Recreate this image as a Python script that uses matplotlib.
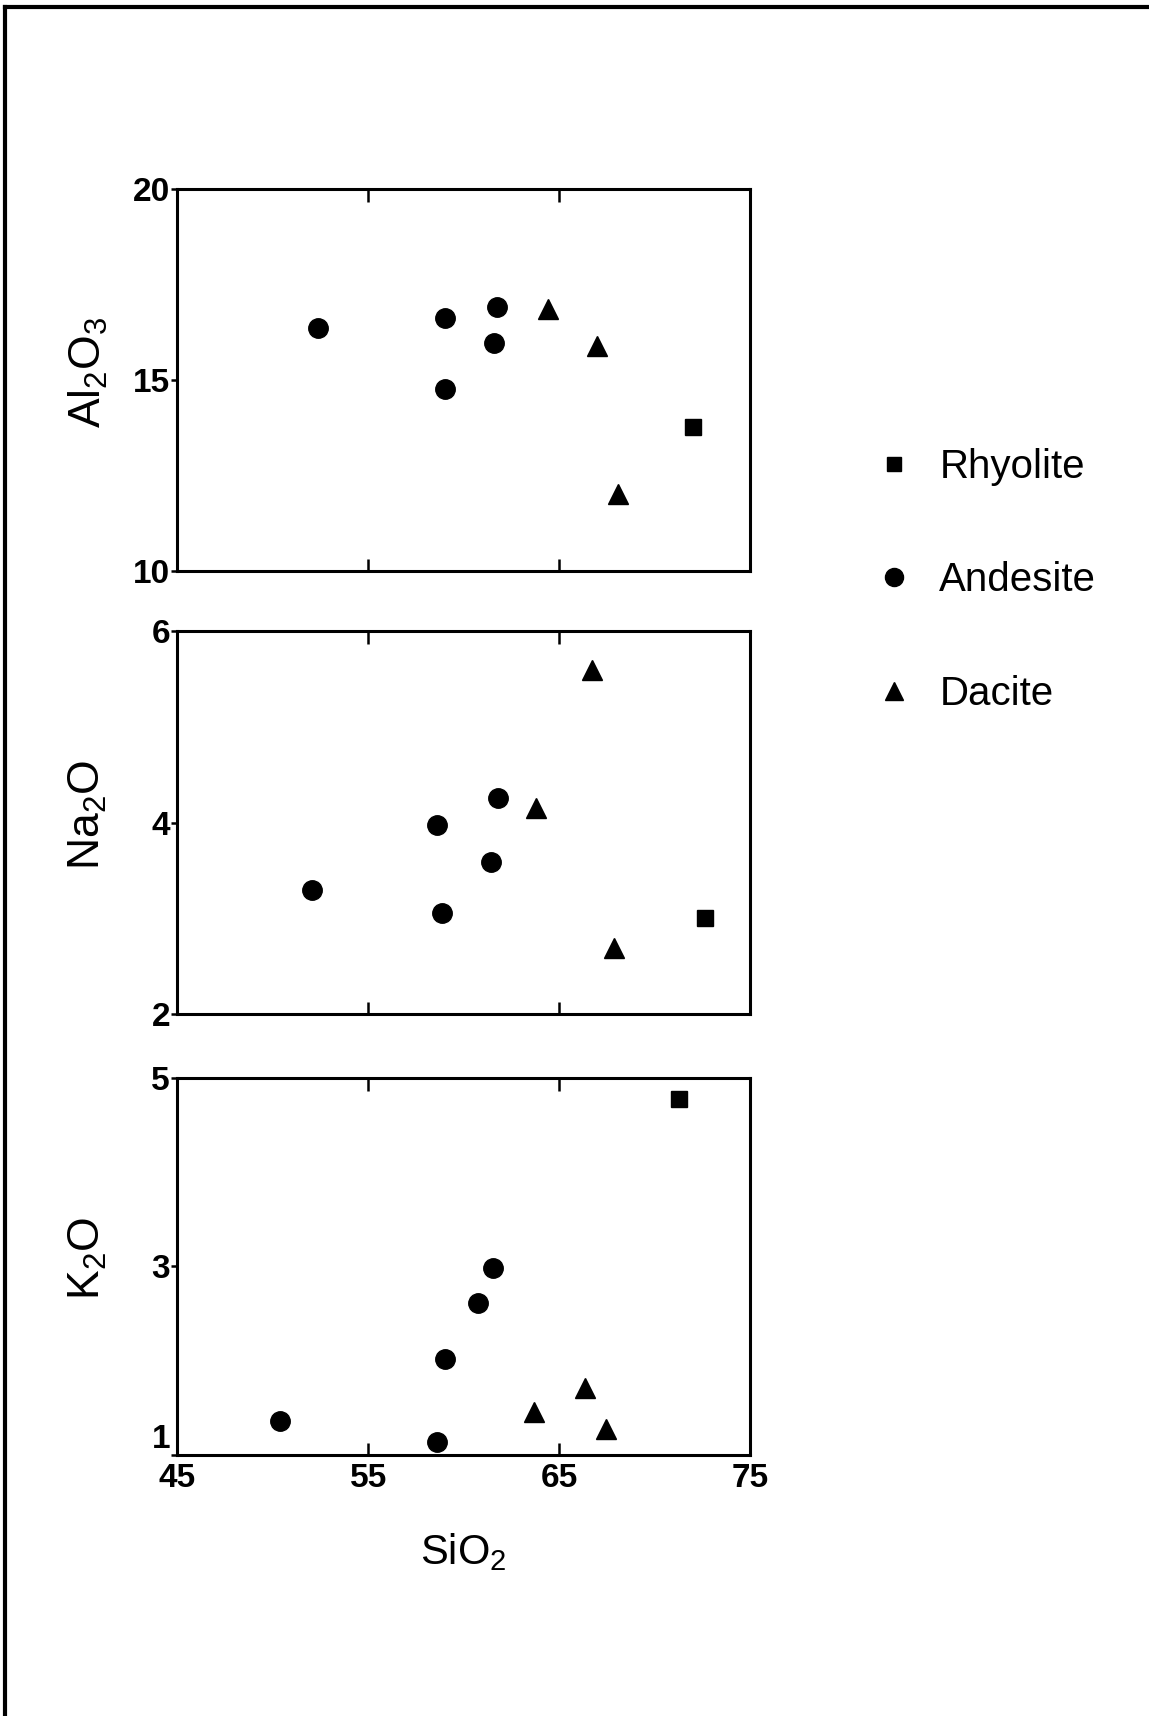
import matplotlib.pyplot as plt
from matplotlib.lines import Line2D

plt.rcParams['font.family'] = ['Liberation Sans', 'DejaVu Sans']
plt.rcParams['mathtext.fontset'] = 'custom'
plt.rcParams['mathtext.rm'] = 'Liberation Sans'

# values (SiO2 vs oxide wt%)
# Al2O3 panel
al_sio2_and = [52.4, 59.05, 61.75, 61.58, 59.05]
al2o3_and = [16.37, 16.63, 16.91, 15.97, 14.77]
al_sio2_dac = [64.4, 67.0, 68.1]
al2o3_dac = [16.86, 15.89, 12.03]
al_sio2_rhy = [72.0]
al2o3_rhy = [13.77]

# Na2O panel
na_sio2_and = [52.06, 58.59, 58.88, 61.81, 61.41]
na2o_and = [3.30, 3.98, 3.06, 4.26, 3.59]
na_sio2_dac = [63.81, 66.74, 67.89]
na2o_dac = [4.15, 5.60, 2.69]
na_sio2_rhy = [72.65]
na2o_rhy = [3.0]

# K2O panel
k_sio2_and = [50.39, 58.59, 59.05, 60.77, 61.52]
k2o_and = [1.36, 1.14, 2.02, 2.61, 2.98]
k_sio2_dac = [63.70, 66.34, 67.43]
k2o_dac = [1.46, 1.71, 1.28]
k_sio2_rhy = [71.27]
k2o_rhy = [4.77]

x_ticks = [45, 55, 65, 75]
rock_types = ['Rhyolite', 'Andesite', 'Dacite']

panels = [
    (r'$\mathregular{Al_2O_3}$', (10, 20), [10, 15, 20],
     (al_sio2_rhy, al2o3_rhy), (al_sio2_and, al2o3_and), (al_sio2_dac, al2o3_dac)),
    (r'$\mathregular{Na_2O}$', (2, 6), [2, 4, 6],
     (na_sio2_rhy, na2o_rhy), (na_sio2_and, na2o_and), (na_sio2_dac, na2o_dac)),
    (r'$\mathregular{K_2O}$', (1, 5), [1, 3, 5],
     (k_sio2_rhy, k2o_rhy), (k_sio2_and, k2o_and), (k_sio2_dac, k2o_dac)),
]

fig = plt.figure(figsize=(11.49, 17.16), dpi=100)
boxes = [[0.154, 0.667, 0.499, 0.223],
         [0.154, 0.409, 0.499, 0.223],
         [0.154, 0.152, 0.499, 0.220]]

for i, (label, ylim, yt, rhy, andes, dac) in enumerate(panels):
    ax = fig.add_axes(boxes[i])
    ax.plot(rhy[0], rhy[1], 's', color='black', markersize=12, linestyle='none')
    ax.plot(andes[0], andes[1], 'o', color='black', markersize=14, linestyle='none')
    ax.plot(dac[0], dac[1], '^', color='black', markersize=14, linestyle='none')
    ax.set_xlim(45, 75)
    ax.set_ylim(*ylim)
    for s in ax.spines.values():
        s.set_linewidth(2.2)
    ax.set_xticks([55, 65])
    ax.tick_params(axis='x', direction='in', length=9, width=1.8, top=True,
                   labelbottom=False)
    ax.set_yticks(yt)
    ax.tick_params(axis='y', direction='out', length=4, width=1.8, pad=1,
                   labelsize=24)
    for t in ax.get_yticklabels():
        t.set_fontweight('bold')
    ax.text(-0.155, 0.52, label, transform=ax.transAxes, rotation=90,
            ha='center', va='center', fontsize=32)
    if i == 2:
        # lowest y label sits just above the spine, clear of the SiO2 scale
        ax.get_yticklabels()[0].set_verticalalignment('bottom')
        for xv in x_ticks:
            ax.text(xv, -0.022, str(xv), transform=ax.get_xaxis_transform(),
                    ha='center', va='top', fontsize=24, fontweight='bold')
        ax.text(0.5, -0.257, r'$\mathregular{SiO_2}$', transform=ax.transAxes,
                ha='center', va='center', fontsize=30)

handles = [Line2D([], [], marker='s', color='black', linestyle='none', markersize=10),
           Line2D([], [], marker='o', color='black', linestyle='none', markersize=13),
           Line2D([], [], marker='^', color='black', linestyle='none', markersize=13)]
fig.legend(handles, rock_types, loc='upper left', bbox_to_anchor=(0.729, 0.760),
           frameon=False, fontsize=29, labelspacing=1.87, handletextpad=0.625,
           handlelength=1.0)

# page frame of the scan (top and left edges)
fig.add_artist(Line2D([0.004, 1.0], [0.996, 0.996], color='black', linewidth=3,
                      transform=fig.transFigure))
fig.add_artist(Line2D([0.004, 0.004], [0.0, 0.996], color='black', linewidth=3,
                      transform=fig.transFigure))

fig.savefig('out.png', dpi=100, facecolor='white')
